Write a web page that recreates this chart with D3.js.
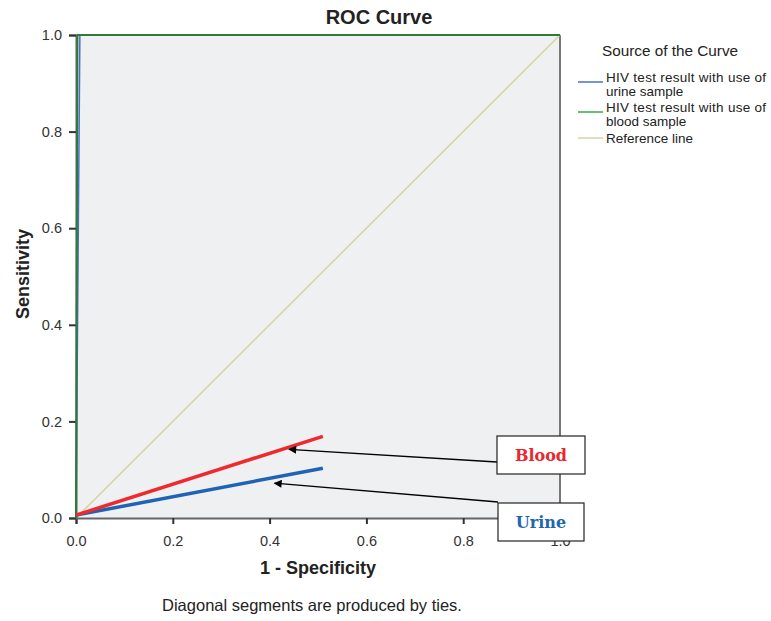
<!DOCTYPE html>
<html><head><meta charset="utf-8">
<script src="https://cdn.jsdelivr.net/npm/d3@7"></script>
<style>body{margin:0;background:#fff}svg{display:block}</style>
</head><body><svg id="c" width="771" height="621"></svg>
<script>
const ticks = [0, 0.2, 0.4, 0.6, 0.8, 1.0];
const urineCurve = [[0,0],[0.008,1],[1,1]];
const bloodCurve = [[0,0],[0.003,1],[1,1]];
const refLine = [[0,0],[1,1]];
const bloodAnnot = [[0,0.006],[0.51,0.169]];
const urineAnnot = [[0,0.006],[0.51,0.103]];
const legendItems = [
  {lines:["HIV test result with use of","urine sample"], color:"#4a6fc9"},
  {lines:["HIV test result with use of","blood sample"], color:"#3aa84a"},
  {lines:["Reference line"], color:"#d8d3a0"}
];
const labels = [
  {text:"Blood", color:"#e8282e", box:[497,436,585,474], target:[0.44,0.142]},
  {text:"Urine", color:"#2266b0", box:[498,503,584,541], target:[0.41,0.072]}
];
const SANS = "'Liberation Sans', Arial, sans-serif";

const svg = d3.select("#c");
const x = d3.scaleLinear().domain([0,1]).range([76,560]);
const y = d3.scaleLinear().domain([0,1]).range([518,35]);

svg.append("rect").attr("x",x(0)).attr("y",y(1)).attr("width",x(1)-x(0)).attr("height",y(0)-y(1)).attr("fill","#eff0f2");
svg.append("line").attr("x1",x(1)).attr("x2",x(1)).attr("y1",y(1)).attr("y2",y(0)).attr("stroke","#777").attr("stroke-width",2);

const line = d3.line().x(d=>x(d[0])).y(d=>y(d[1]));
svg.append("path").datum(refLine).attr("d",line).attr("fill","none").attr("stroke","#d8d3a0").attr("stroke-width",1.5);

const xAxis = svg.append("g").attr("transform",`translate(0,${y(0)})`)
  .call(d3.axisBottom(x).tickValues(ticks).tickFormat(d3.format(".1f")).tickSize(6).tickPadding(12));
const yAxis = svg.append("g").attr("transform",`translate(${x(0)},0)`)
  .call(d3.axisLeft(y).tickValues(ticks).tickFormat(d3.format(".1f")).tickSize(7).tickPadding(7));
[xAxis,yAxis].forEach(a=>{
  a.select(".domain").attr("stroke","#666").attr("stroke-width",2);
  a.selectAll(".tick line").attr("stroke","#333").attr("stroke-width",2);
  a.selectAll(".tick text").style("font-size","14.5px").attr("fill","#333").style("font-family",SANS);
});

svg.append("path").datum(urineCurve).attr("d",line).attr("fill","none").attr("stroke","#4a6fc9").attr("stroke-width",1.5);
svg.append("path").datum(bloodCurve).attr("d",line).attr("fill","none").attr("stroke","#2f7a3a").attr("stroke-width",2);

svg.append("path").datum(urineAnnot).attr("d",line).attr("fill","none").attr("stroke","#1f63b4").attr("stroke-width",3.5);
svg.append("path").datum(bloodAnnot).attr("d",line).attr("fill","none").attr("stroke","#ee2a2e").attr("stroke-width",3.5);

const defs = svg.append("defs");
defs.append("marker").attr("id","ah").attr("viewBox","0 0 10 10").attr("refX",9).attr("refY",5)
  .attr("markerWidth",11).attr("markerHeight",8).attr("markerUnits","userSpaceOnUse").attr("orient","auto")
  .append("path").attr("d","M0,0 L10,5 L0,10 z").attr("fill","#000");
labels.forEach(l=>{
  const [x0,y0,x1,y1] = l.box;
  svg.append("line").attr("x1",x0).attr("y1",l.text==="Blood"?462:502).attr("x2",x(l.target[0])).attr("y2",y(l.target[1]))
    .attr("stroke","#000").attr("stroke-width",1.3).attr("marker-end","url(#ah)");
});
labels.forEach(l=>{
  const [x0,y0,x1,y1] = l.box;
  svg.append("rect").attr("x",x0).attr("y",y0).attr("width",x1-x0).attr("height",y1-y0).attr("fill","#fff").attr("stroke","#222").attr("stroke-width",1.2);
  svg.append("text").attr("x",(x0+x1)/2).attr("y",(y0+y1)/2+6).attr("text-anchor","middle")
    .style("font-family","'DejaVu Serif', 'Liberation Serif', serif").style("font-weight","bold").style("font-size","16px").attr("fill",l.color).text(l.text);
});

function txt(x0,y0,s,size,bold,anchor){
  return svg.append("text").attr("x",x0).attr("y",y0).attr("text-anchor",anchor||"start")
    .style("font-family",SANS).style("font-size",size+"px").style("font-weight",bold?"bold":"normal").attr("fill","#222").text(s);
}
txt(379,24,"ROC Curve",20,true,"middle");
svg.append("text").attr("transform","translate(29,274) rotate(-90)").attr("text-anchor","middle")
  .style("font-family",SANS).style("font-size","18px").style("font-weight","bold").attr("fill","#222").text("Sensitivity");
txt(318,574,"1 - Specificity",18,true,"middle");
txt(312,611,"Diagonal segments are produced by ties.",16.5,false,"middle");

txt(602,56,"Source of the Curve",15.3,false);
const itemY = [82, 112, 138];
legendItems.forEach((it,k)=>{
  const ly = itemY[k];
  svg.append("line").attr("x1",578).attr("x2",603).attr("y1",ly).attr("y2",ly).attr("stroke",it.color).attr("stroke-width",1.5);
  const base = it.lines.length>1 ? ly : ly+5;
  it.lines.forEach((t,i)=>{ txt(606, base + i*13.5, t, 13.5, false).attr("textLength", i===0 && it.lines.length>1 ? 160 : null); });
});
</script></body></html>
